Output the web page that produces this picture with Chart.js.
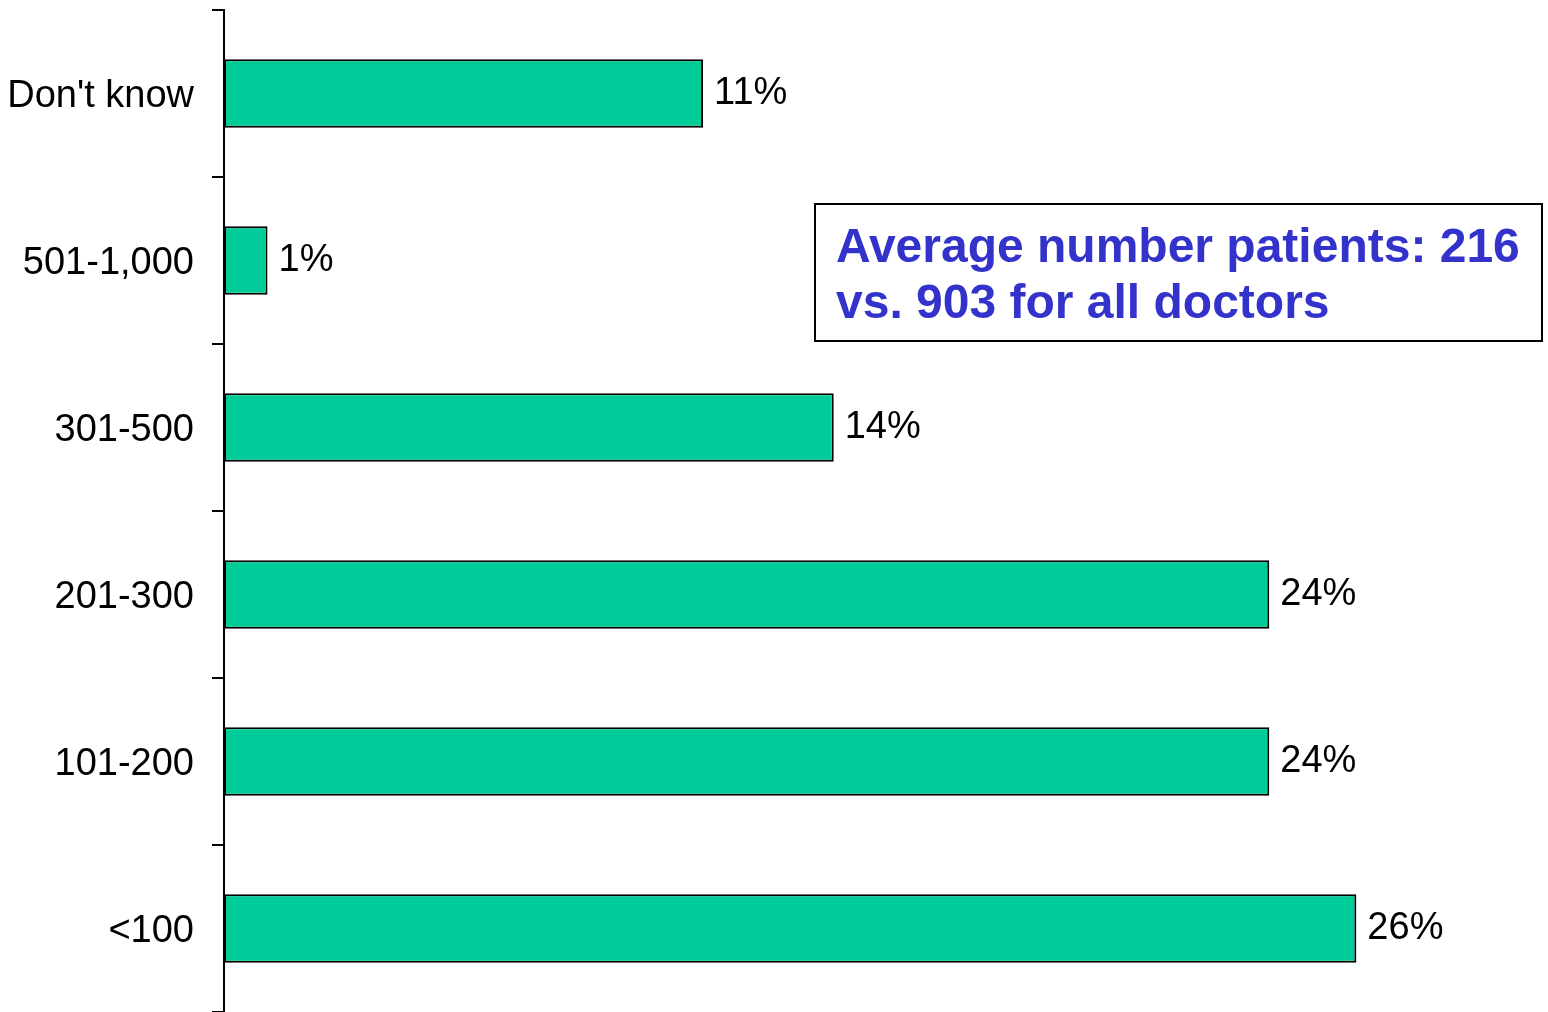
<!DOCTYPE html>
<html>
<head>
<meta charset="utf-8">
<script src="https://cdn.jsdelivr.net/npm/chart.js@4"></script>
<style>
  html, body { margin: 0; padding: 0; background: #ffffff; }
  #wrap { width: 1548px; height: 1012px; position: relative; }
</style>
</head>
<body>
<div id="wrap"><canvas id="chart"></canvas></div>
<script>
const categories = ["Don't know", '501-1,000', '301-500', '201-300', '101-200', '<100'];
const shares = [11, 1, 14, 24, 24, 26];
const noteLines = ['Average number patients: 216', 'vs. 903 for all doctors'];

const valueLabels = {
  id: 'valueLabels',
  afterDatasetsDraw(chart) {
    const ctx = chart.ctx;
    const meta = chart.getDatasetMeta(0);
    ctx.save();
    ctx.font = '38px "Liberation Sans", Arial, sans-serif';
    ctx.fillStyle = '#000000';
    ctx.textAlign = 'left';
    ctx.textBaseline = 'middle';
    meta.data.forEach((bar, i) => {
      ctx.fillText(shares[i] + '%', bar.x + 11, bar.y);
    });
    ctx.restore();
  }
};

const noteBox = {
  id: 'noteBox',
  afterDraw(chart) {
    const ctx = chart.ctx;
    ctx.save();
    ctx.fillStyle = '#ffffff';
    ctx.fillRect(815, 204, 727, 137);
    ctx.strokeStyle = '#000000';
    ctx.lineWidth = 2;
    ctx.strokeRect(815, 204, 727, 137);
    ctx.font = 'bold 48px "Liberation Sans", Arial, sans-serif';
    ctx.fillStyle = '#3333cc';
    ctx.textAlign = 'left';
    ctx.textBaseline = 'alphabetic';
    ctx.fillText(noteLines[0], 836, 262);
    ctx.fillText(noteLines[1], 836, 318);
    ctx.restore();
  }
};

new Chart(document.getElementById('chart'), {
  type: 'bar',
  data: {
    labels: categories,
    datasets: [{
      data: shares,
      backgroundColor: '#00cc99',
      borderColor: '#000000',
      borderWidth: 2,
      borderSkipped: false,
      barPercentage: 0.41,
      categoryPercentage: 1
    }]
  },
  options: {
    indexAxis: 'y',
    responsive: true,
    maintainAspectRatio: false,
    animation: false,
    layout: { padding: { top: 10, left: 0, right: 0, bottom: 0 } },
    plugins: {
      legend: { display: false },
      tooltip: { enabled: false }
    },
    scales: {
      x: {
        display: false,
        min: 0,
        max: 30.4
      },
      y: {
        afterFit(scale) {
          scale.width = 224;
          scale.paddingTop = 0;
          scale.paddingBottom = 0;
        },
        grid: {
          drawOnChartArea: false,
          drawTicks: true,
          tickLength: 12,
          color: '#000000',
          lineWidth: 2
        },
        border: { display: true, color: '#000000', width: 2 },
        ticks: {
          color: '#000000',
          padding: 18,
          labelOffset: 3,
          font: { family: '"Liberation Sans", Arial, sans-serif', size: 38 }
        }
      }
    }
  },
  plugins: [valueLabels, noteBox]
});
</script>
</body>
</html>
